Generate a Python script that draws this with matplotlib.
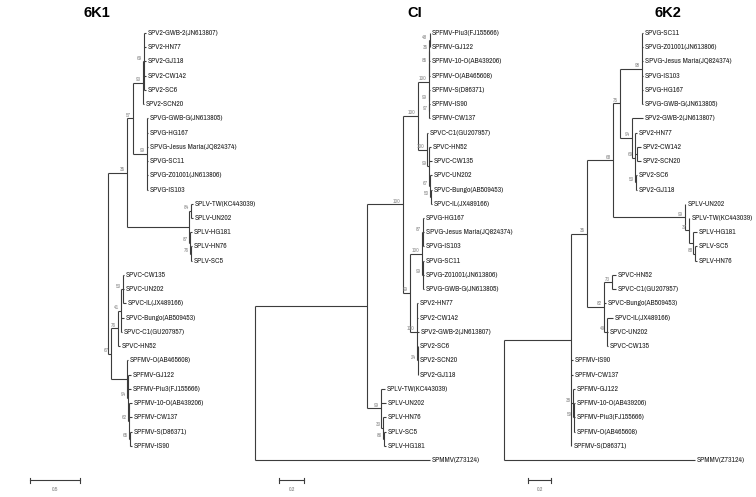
import matplotlib
matplotlib.use('Agg')
import matplotlib.pyplot as plt
from matplotlib import transforms

TITLES = ['6K1', 'CI', '6K2']
SCALE_BARS = [0.5, 0.2, 0.2]

# newick with branch lengths, bootstrap values as internal labels
TREE_6K1 = (
    "(((((SPV2-GWB-2(JN613807):0.02,SPV2-HN77:0.02,SPV2-GJ118:0.02,"
    "SPV2-CW142:0.02,SPV2-SC6:0.02)69:0.01,SPV2-SCN20:0.005)93:0.10,"
    "(SPVG-GWB-G(JN613805):0.01,SPVG-HG167:0.01,SPVG-Jesus Maria(JQ824374):0.01,"
    "SPVG-SC11:0.01,SPVG-Z01001(JN613806):0.01,SPVG-IS103:0.01)99:0.14)57:0.06,"
    "((SPLV-TW(KC443039):0.02,SPLV-UN202:0.02)84:0.02,"
    "(SPLV-HG181:0.015,(SPLV-HN76:0.01,SPLV-SC5:0.01)76:0.01)87:0.01):0.62)35:0.19,"
    "((((SPVC-CW135:0.01,SPVC-UN202:0.01,SPVC-IL(JX489166):0.03)53:0.02,"
    "SPVC-Bungo(AB509453):0.03,SPVC-C1(GU207957):0.01)41:0.03,SPVC-HN52:0.02)76:0.07,"
    "(SPFMV-O(AB465608):0.01,(SPFMV-GJ122:0.03,SPFMV-Piu3(FJ155666):0.03,"
    "(SPFMV-10-O(AB439206):0.03,SPFMV-CW137:0.03,"
    "(SPFMV-S(D86371):0.02,SPFMV-IS90:0.02)65:0.01)62:0.01)94:0.01):0.16)67:0.03):1.02,"
    "SPMMV(Z73124):1.85);"
)

TREE_CI = (
    "((((((((SPFMV-Piu3(FJ155666):0.004,SPFMV-GJ122:0.004)48:0.001,"
    "SPFMV-10-O(AB439206):0.005)35:0.001,SPFMV-O(AB465608):0.006)85:0.002,"
    "(SPFMV-S(D86371):0.006,(SPFMV-IS90:0.005,SPFMV-CW137:0.005)97:0.001)99:0.002)100:0.088,"
    "(SPVC-C1(GU207957):0.008,(SPVC-HN52:0.016,SPVC-CW135:0.024,"
    "(SPVC-UN202:0.016,(SPVC-Bungo(AB509453):0.012,SPVC-IL(JX489166):0.012)50:0.004)67:0.008)99:0.016)100:0.072)100:0.12,"
    "(((SPVG-HG167:0.008,SPVG-Jesus Maria(JQ824374):0.008,SPVG-IS103:0.008)87:0.004,"
    "(SPVG-SC11:0.008,SPVG-Z01001(JN613806):0.008,SPVG-GWB-G(JN613805):0.008)99:0.008)100:0.096,"
    "(SPV2-HN77:0.008,SPV2-CW142:0.008,SPV2-GWB-2(JN613807):0.012,"
    "(SPV2-SC6:0.004,SPV2-SCN20:0.004,SPV2-GJ118:0.004)24:0.004)100:0.056)99:0.056)100:0.288,"
    "(SPLV-TW(KC443039):0.032,SPLV-UN202:0.04,"
    "(SPLV-HN76:0.024,(SPLV-SC5:0.016,SPLV-HG181:0.016)86:0.008)33:0.016)99:0.112):0.896,"
    "SPMMV(Z73124):1.4);"
)

TREE_6K2 = (
    "((((((SPVG-SC11:0.009,SPVG-Z01001(JN613806):0.009,SPVG-Jesus Maria(JQ824374):0.009,"
    "SPVG-IS103:0.009,SPVG-HG167:0.009,SPVG-GWB-G(JN613805):0.009)98:0.189,"
    "(SPV2-GWB-2(JN613807):0.094,(SPV2-HN77:0.017,(SPV2-CW142:0.034,SPV2-SCN20:0.034):0.017,"
    "(SPV2-SC6:0.009,SPV2-GJ118:0.009)53:0.009)69:0.026)94:0.103)75:0.06,"
    "(SPLV-UN202:0.004,(SPLV-TW(KC443039):0.004,(SPLV-HG181:0.034,"
    "(SPLV-SC5:0.017,SPLV-HN76:0.017)88:0.017):0.034)37:0.034)99:0.618)68:0.223,"
    "((SPVC-HN52:0.034,SPVC-C1(GU207957):0.034)73:0.069,SPVC-Bungo(AB509453):0.017,"
    "(SPVC-IL(JX489166):0.052,SPVC-UN202:0.009,SPVC-CW135:0.009)49:0.026)82:0.146)35:0.137,"
    "SPFMV-IS90:0.017,SPFMV-CW137:0.017,"
    "(SPFMV-GJ122:0.017,(SPFMV-10-O(AB439206):0.009,SPFMV-Piu3(FJ155666):0.009,"
    "SPFMV-O(AB465608):0.009)59:0.009)38:0.017,SPFMV-S(D86371):0.004):0.575,"
    "SPMMV(Z73124):1.64);"
)

TREES = [TREE_6K1, TREE_CI, TREE_6K2]

W, H = 756, 497
ROOT_PX = [6, 255, 504]       # root x in pixels
PX_PER_UNIT = [100, 125, 116.5]
TITLE_PX = [(97, 13), (415, 13), (668, 13)]
ROW0, ROW_STEP = 33, 14.233
LINE = '#3c3c3c'
LEAF_FONT = ['Archivo Narrow', 'Liberation Sans', 'DejaVu Sans']


def parse(s, i=0):
    node = {'children': [], 'name': '', 'length': 0.0}
    if s[i] == '(':
        i += 1
        while True:
            child, i = parse(s, i)
            node['children'].append(child)
            if s[i] == ',':
                i += 1
            else:
                i += 1
                break
        j = i
        while s[i] not in ':,);':
            i += 1
        node['name'] = s[j:i]
    else:
        j = i
        while s[i] != ':':
            i += 1
        node['name'] = s[j:i]
    if s[i] == ':':
        i += 1
        j = i
        while s[i] not in ',);':
            i += 1
        node['length'] = float(s[j:i])
    return node, i


def layout(node, depth, rows):
    node['x'] = depth + node['length']
    if not node['children']:
        node['y'] = len(rows)
        rows.append(node)
    else:
        for c in node['children']:
            layout(c, node['x'], rows)
        node['y'] = (node['children'][0]['y'] + node['children'][-1]['y']) / 2


def draw(ax, node, t_leaf, t_boot):
    if node['children']:
        ys = [c['y'] for c in node['children']]
        ax.plot([node['x'], node['x']], [ys[0], ys[-1]], color=LINE, lw=0.8,
                solid_capstyle='butt')
        for c in node['children']:
            ax.plot([node['x'], c['x']], [c['y'], c['y']], color=LINE, lw=0.8,
                    solid_capstyle='butt')
            draw(ax, c, t_leaf, t_boot)
        if node['name']:
            ax.text(node['x'], node['y'], node['name'], transform=t_boot,
                    ha='right', va='center', fontsize=4, color='#888888',
                    family=LEAF_FONT)
    else:
        ax.text(node['x'], node['y'], node['name'], transform=t_leaf,
                ha='left', va='center', fontsize=5.5, color='#222222',
                family=LEAF_FONT)


fig = plt.figure(figsize=(W / 100, H / 100), dpi=100)

for k in range(3):
    tree, _ = parse(TREES[k])
    rows = []
    layout(tree, 0.0, rows)
    ax = fig.add_axes([0, 0, 1, 1])
    ax.patch.set_visible(False)
    ax.axis('off')
    ppu = PX_PER_UNIT[k]
    ax.set_xlim(-ROOT_PX[k] / ppu, (W - ROOT_PX[k]) / ppu)
    ax.set_ylim((H - ROW0) / ROW_STEP, -ROW0 / ROW_STEP)
    t_leaf = transforms.offset_copy(ax.transData, fig, x=2, y=0, units='dots')
    t_boot = transforms.offset_copy(ax.transData, fig, x=-2, y=3, units='dots')
    draw(ax, tree, t_leaf, t_boot)

    # scale bar
    x0 = 24 / ppu
    yb = (480 - ROW0) / ROW_STEP
    tick = 2.5 / ROW_STEP
    ax.plot([x0, x0 + SCALE_BARS[k]], [yb, yb], color=LINE, lw=0.8)
    ax.plot([x0, x0], [yb - tick, yb + tick], color=LINE, lw=0.8)
    ax.plot([x0 + SCALE_BARS[k]] * 2, [yb - tick, yb + tick], color=LINE, lw=0.8)
    ax.text(x0 + SCALE_BARS[k] / 2, (489 - ROW0) / ROW_STEP, str(SCALE_BARS[k]),
            ha='center', va='center', fontsize=4, color='#777777', family=LEAF_FONT)

    tx, ty = TITLE_PX[k]
    fig.text(tx / W, 1 - ty / H, TITLES[k], ha='center', va='center',
             fontsize=10.5, fontweight='bold', family=['Liberation Sans', 'DejaVu Sans'])

fig.savefig('out.png', dpi=100)
